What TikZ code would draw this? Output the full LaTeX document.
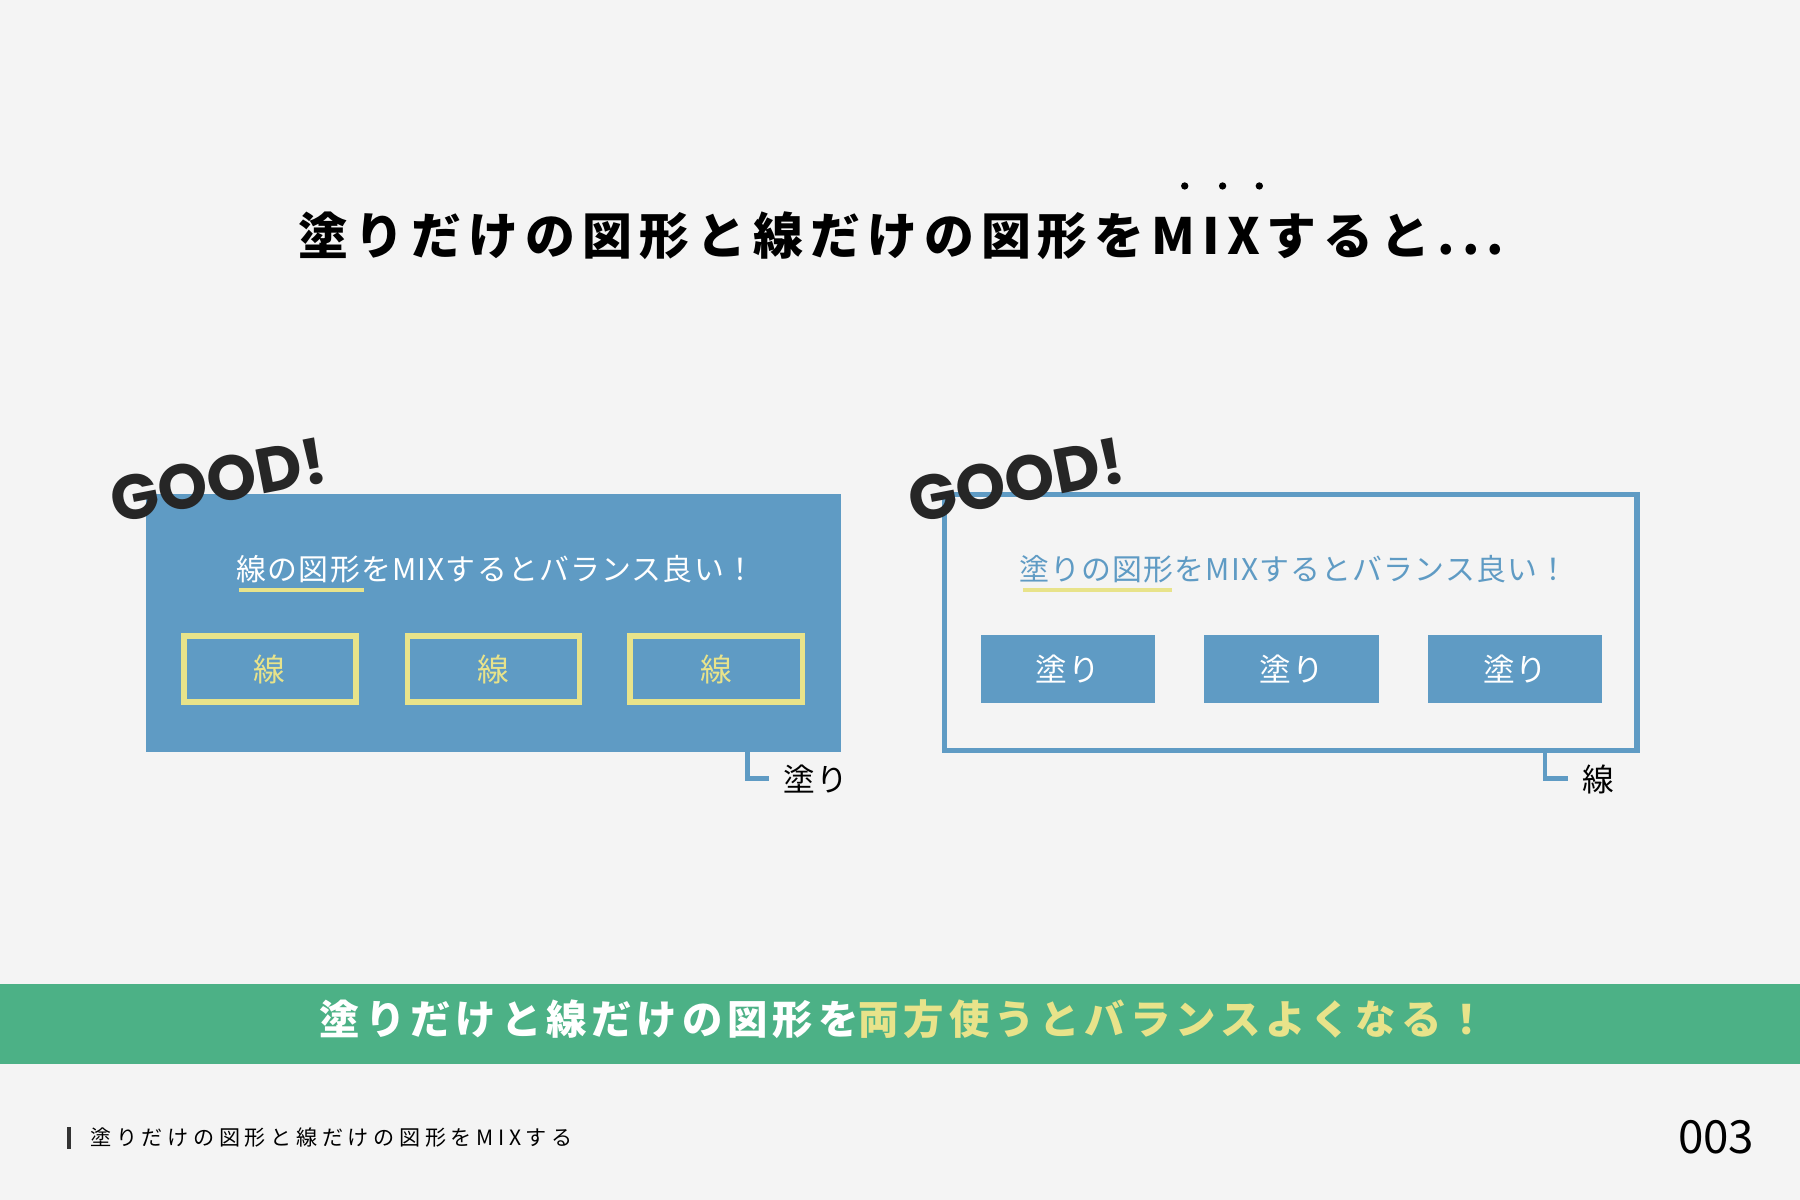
\documentclass[tikz,border=0pt]{standalone}
\usepackage{fontspec}
\newfontfamily\jpT[LetterSpace=14]{Noto Sans CJK JP}
\newfontfamily\jpM[LetterSpace=4]{Noto Sans CJK JP}
\newfontfamily\jpB[LetterSpace=12]{Noto Sans CJK JP}
\newfontfamily\jpF[LetterSpace=22]{Noto Sans CJK JP}
\newfontfamily\jp{Noto Sans CJK JP}
\newfontfamily\good{Poppins}
\definecolor{bl}{HTML}{5F9BC4}
\definecolor{yl}{HTML}{E8E38A}
\definecolor{gr}{HTML}{4CB186}
\definecolor{bg}{HTML}{F4F4F4}
\tikzset{
 ybox/.style={draw=yl,line width=1.6pt,minimum width=1.72cm,minimum height=0.66cm,text=yl,font=\jp\fontsize{9}{9}\selectfont},
 bbox/.style={fill=bl,minimum width=1.74cm,minimum height=0.68cm,text=white,font=\jpM\fontsize{9}{9}\selectfont},
 goodt/.style={rotate=11,font=\good\bfseries\fontsize{18}{18}\selectfont,text=black!85},
 brk/.style={draw=bl,line width=1.3pt},
}
\begin{document}
\begin{tikzpicture}[x=0.01148cm,y=-0.01148cm]
\fill[bg] (0,0) rectangle (1568,1045);
\useasboundingbox (0,0) rectangle (1568,1045);
% title
\node (title) at (785,205) {\jpT\bfseries\fontsize{14.2}{14.2}\selectfont 塗りだけの図形と線だけの図形をMIXすると...};
\foreach \x in {1032,1065,1097}{\fill (\x,162) circle (3.2);}
% left panel
\fill[bl] (127,430) rectangle (733,655);
\node (lt) at (432,496) {\jpM\fontsize{8.5}{8.5}\selectfont\color{white}線の図形をMIXするとバランス良い！};
\draw[yl,line width=1.2pt] (208,514) -- (317,514);
\node[ybox] (l1) at (235,583) {線};
\node[ybox] (l2) at (430,583) {線};
\node[ybox] (l3) at (624,583) {線};
\node[goodt] (g1) at (190,418) {GOOD!};
\coordinate (lb1) at (651,655);
\coordinate (lb2) at (670,678);
\draw[brk] (lb1) |- (lb2);
\node[anchor=west,font=\jpM\fontsize{9}{9}\selectfont] (ll) at (672,679) {塗り};
% right panel
\draw[bl,line width=1.5pt] (823,431) rectangle (1426,654);
\node (rt) at (1127,496) {\jpM\fontsize{8.5}{8.5}\selectfont\color{bl}塗りの図形をMIXするとバランス良い！};
\draw[yl,line width=1.2pt] (891,514) -- (1021,514);
\node[bbox] (r1) at (930,583) {塗り};
\node[bbox] (r2) at (1125,583) {塗り};
\node[bbox] (r3) at (1320,583) {塗り};
\node[goodt] (g2) at (885,418) {GOOD!};
\coordinate (rb1) at (1346,654);
\coordinate (rb2) at (1366,678);
\draw[brk] (rb1) |- (rb2);
\node[anchor=west,font=\jpM\fontsize{9}{9}\selectfont] (rl) at (1368,679) {線};
% band
\fill[gr] (0,857) rectangle (1568,927);
\node (band) at (787,888) {\jpB\bfseries\fontsize{11.5}{11.5}\selectfont\color{white}塗りだけと線だけの図形を\color{yl}両方使うとバランスよくなる！};
% footer
\fill[black!80] (58,982) rectangle (62,1001);
\node[anchor=west] (ft) at (68,991) {\jpF\fontsize{6}{6}\selectfont 塗りだけの図形と線だけの図形をMIXする};
\node (num) at (1495,991) {\jp\fontsize{13}{13}\selectfont 003};
\end{tikzpicture}
\end{document}
